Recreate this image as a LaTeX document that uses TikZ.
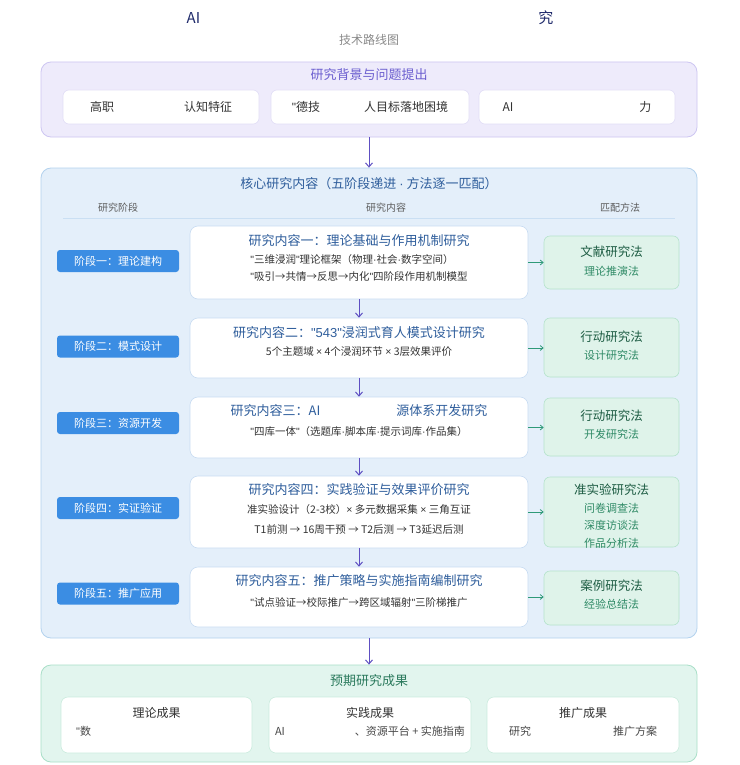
\documentclass[tikz,border=0pt]{standalone}
\usepackage{fontspec}
\setmainfont{Noto Sans CJK SC}
\newfontfamily\cjk{Noto Sans CJK SC}
\newfontfamily\lat{Liberation Sans}
\usetikzlibrary{arrows.meta}
\definecolor{navy}{HTML}{1F2A6B}
\definecolor{subgray}{HTML}{8A8A8A}
\definecolor{lavfill}{HTML}{EEEBFB}
\definecolor{lavline}{HTML}{CDC6F2}
\definecolor{lavtext}{HTML}{6B5ECF}
\definecolor{inline}{HTML}{E2DEF6}
\definecolor{arrowpurple}{HTML}{5E4FC2}
\definecolor{bluefill}{HTML}{E4EFFA}
\definecolor{blueline}{HTML}{B3D2EE}
\definecolor{bluetext}{HTML}{2F5E9C}
\definecolor{pillblue}{HTML}{3B8DE3}
\definecolor{cline}{HTML}{C8DCF2}
\definecolor{mfill}{HTML}{DFF3EA}
\definecolor{mline}{HTML}{B5E3CC}
\definecolor{mtext}{HTML}{1D5C43}
\definecolor{msub}{HTML}{2F8A66}
\definecolor{garrow}{HTML}{2E9A78}
\definecolor{mintfill}{HTML}{E2F5EE}
\definecolor{mintline}{HTML}{A9DFC8}
\definecolor{minttext}{HTML}{2B7A5D}
\definecolor{bodytext}{HTML}{333333}
\newcommand{\fsz}[1]{\cjk\fontsize{#1}{#1}\selectfont}
\newcommand{\qq}{{\lat"}}
\newcommand{\md}{{\lat\textperiodcentered}}
\newcommand{\tm}{{\lat ×}}
\begin{document}
\begin{tikzpicture}[x=1pt,y=-1pt,
  panel/.style={draw, rounded corners=10pt, line width=0.8pt, minimum width=656pt, inner sep=0pt},
  inbox/.style={draw=inline, fill=white, rounded corners=6pt, line width=0.6pt, minimum height=34pt, inner sep=0pt, font=\fsz{12}, text=bodytext},
  pill/.style={fill=pillblue, rounded corners=3pt, minimum width=122pt, minimum height=22pt, inner sep=0pt, text=white, font=\fsz{11}},
  contentbox/.style={draw=cline, fill=white, rounded corners=8pt, line width=0.6pt, minimum width=338pt, inner sep=0pt},
  methodbox/.style={draw=mline, fill=mfill, rounded corners=6pt, line width=0.6pt, minimum width=135pt, inner sep=0pt},
  ctitle/.style={text=bluetext, font=\fsz{13}, inner sep=0pt},
  cline/.style={text=bodytext, font=\fsz{10.5}, inner sep=0pt},
  mtitle/.style={text=mtext, font=\fsz{12.5}, inner sep=0pt},
  msubt/.style={text=msub, font=\fsz{11}, inner sep=0pt},
  header/.style={text=bodytext!80, font=\fsz{10}, inner sep=0pt},
  flowarrow/.style={draw=arrowpurple, line width=1pt, -{Straight Barb[length=4pt,width=7pt]}},
  methodarrow/.style={draw=garrow, line width=0.8pt, -{Straight Barb[length=3pt,width=5pt]}}
]
\useasboundingbox (0,0) rectangle (739,765);
\fill[white] (0,0) rectangle (739,765);

% title
\node[text=navy, font=\fsz{15}, inner sep=0pt] (title) at (370,18) {AI\hspace{338pt}究};
\node[text=subgray, font=\fsz{12}, inner sep=0pt] (subtitle) at (369,40) {技术路线图};

% panel 1
\node[panel, draw=lavline, fill=lavfill, minimum height=75pt] (p1) at (369,99.5) {};
\node[text=lavtext, font=\fsz{13}, inner sep=0pt] (p1t) at (369,75) {研究背景与问题提出};
\node[inbox, minimum width=196pt] (b1) at (161,107) {高职\hspace{70pt}认知特征};
\node[inbox, minimum width=198pt] (b2) at (370,107) {\qq 德技\hspace{44pt}人目标落地困境};
\node[inbox, minimum width=196pt] (b3) at (577,107) {AI\hspace{126pt}力};

% panel 2
\node[panel, draw=blueline, fill=bluefill, minimum height=470pt] (p2) at (369,403) {};
\node[text=bluetext, font=\fsz{13}, inner sep=0pt] (p2t) at (369,184) {核心研究内容（五阶段递进 \md{} 方法逐一匹配）};
\node[header] (h1) at (118,208) {研究阶段};
\node[header] (h2) at (386,208) {研究内容};
\node[header] (h3) at (620,208) {匹配方法};
\draw[blueline!70, line width=1pt] (63,218) -- (675,218);

% stage pills
\node[pill] (s1) at (118,261) {阶段一：理论建构};
\node[pill] (s2) at (118,346.5) {阶段二：模式设计};
\node[pill] (s3) at (118,423) {阶段三：资源开发};
\node[pill] (s4) at (118,508) {阶段四：实证验证};
\node[pill] (s5) at (118,593.5) {阶段五：推广应用};

% content boxes
\node[contentbox, minimum height=73pt] (c1) at (359,262.5) {};
\node[contentbox, minimum height=60pt] (c2) at (359,348) {};
\node[contentbox, minimum height=61pt] (c3) at (359,427.5) {};
\node[contentbox, minimum height=72pt] (c4) at (359,512) {};
\node[contentbox, minimum height=60pt] (c5) at (359,597) {};

\node[ctitle] (c1t) at (359,241) {研究内容一：理论基础与作用机制研究};
\node[cline] (c1a) at (352,260) {\qq 三维浸润\qq 理论框架（物理\md 社会\md 数字空间）};
\node[cline] (c1b) at (359,277) {\qq 吸引→共情→反思→内化\qq 四阶段作用机制模型};

\node[ctitle] (c2t) at (359,333) {研究内容二：\qq{\lat 543}\qq 浸润式育人模式设计研究};
\node[cline] (c2a) at (359,352) {5个主题域 \tm{} 4个浸润环节 \tm{} 3层效果评价};

\node[ctitle] (c3t) at (359,411) {研究内容三：AI\hspace{76pt}源体系开发研究};
\node[cline] (c3a) at (359,432) {\qq 四库一体\qq（选题库\md 脚本库\md 提示词库\md 作品集）};

\node[ctitle] (c4t) at (359,490) {研究内容四：实践验证与效果评价研究};
\node[cline] (c4a) at (359,510) {准实验设计（2-3校）\tm{} 多元数据采集 \tm{} 三角互证};
\node[cline] (c4b) at (359,530) {T1前测 → 16周干预 → T2后测 → T3延迟后测};

\node[ctitle] (c5t) at (359,581) {研究内容五：推广策略与实施指南编制研究};
\node[cline] (c5a) at (359,603) {\qq 试点验证→校际推广→跨区域辐射\qq 三阶梯推广};

% method boxes
\node[methodbox, minimum height=53pt] (m1) at (611.5,262.5) {};
\node[methodbox, minimum height=59pt] (m2) at (611.5,347.5) {};
\node[methodbox, minimum height=58pt] (m3) at (611.5,427) {};
\node[methodbox, minimum height=70pt] (m4) at (611.5,512) {};
\node[methodbox, minimum height=54pt] (m5) at (611.5,598) {};

\node[mtitle] (m1t) at (611.5,252) {文献研究法};
\node[msubt] (m1a) at (611.5,271) {理论推演法};
\node[mtitle] (m2t) at (611.5,337) {行动研究法};
\node[msubt] (m2a) at (611.5,355) {设计研究法};
\node[mtitle] (m3t) at (611.5,416) {行动研究法};
\node[msubt] (m3a) at (611.5,434) {开发研究法};
\node[mtitle] (m4t) at (611.5,490) {准实验研究法};
\node[msubt] (m4a) at (611.5,508) {问卷调查法};
\node[msubt] (m4b) at (611.5,525.5) {深度访谈法};
\node[msubt] (m4c) at (611.5,543) {作品分析法};
\node[mtitle] (m5t) at (611.5,586) {案例研究法};
\node[msubt] (m5a) at (611.5,604) {经验总结法};

% arrows content -> method
\draw[methodarrow] (c1.east) -- (m1.west);
\draw[methodarrow] (c2.east) -- (m2.west |- c2.east);
\draw[methodarrow] (c3.east) -- (m3.west |- c3.east);
\draw[methodarrow] (c4.east) -- (m4.west |- c4.east);
\draw[methodarrow] (c5.east) -- (m5.west |- c5.east);

% flow arrows
\draw[flowarrow] (p1.south) -- (p2.north);
\draw[flowarrow] (c1.south) -- (c2.north);
\draw[flowarrow] (c2.south) -- (c3.north);
\draw[flowarrow] (c3.south) -- (c4.north);
\draw[flowarrow] (c4.south) -- (c5.north);

% panel 3
\node[panel, draw=mintline, fill=mintfill, minimum height=97pt] (p3) at (369,713.5) {};
\node[text=minttext, font=\fsz{13}, inner sep=0pt] (p3t) at (369,681) {预期研究成果};
\node[draw=mintline!60, fill=white, rounded corners=7pt, line width=0.6pt, minimum width=191pt, minimum height=56pt, inner sep=0pt] (r1) at (156.5,725) {};
\node[draw=mintline!60, fill=white, rounded corners=7pt, line width=0.6pt, minimum width=202pt, minimum height=56pt, inner sep=0pt] (r2) at (370,725) {};
\node[draw=mintline!60, fill=white, rounded corners=7pt, line width=0.6pt, minimum width=192pt, minimum height=56pt, inner sep=0pt] (r3) at (583,725) {};
\node[text=bodytext, font=\fsz{12}, inner sep=0pt] (r1t) at (156.5,713) {理论成果};
\node[text=bodytext, font=\fsz{12}, inner sep=0pt] (r2t) at (370,713) {实践成果};
\node[text=bodytext, font=\fsz{12}, inner sep=0pt] (r3t) at (583,713) {推广成果};
\node[text=bodytext!90, font=\fsz{11}, inner sep=0pt, anchor=west] (r1a) at (76,731) {\qq 数};
\node[text=bodytext!90, font=\fsz{11}, inner sep=0pt] (r2a) at (370,731) {AI\hspace{70pt}、资源平台 + 实施指南};
\node[text=bodytext!90, font=\fsz{11}, inner sep=0pt] (r3a) at (583,731) {研究\hspace{82pt}推广方案};
\draw[flowarrow] (p2.south) -- (p3.north);
\end{tikzpicture}
\end{document}
